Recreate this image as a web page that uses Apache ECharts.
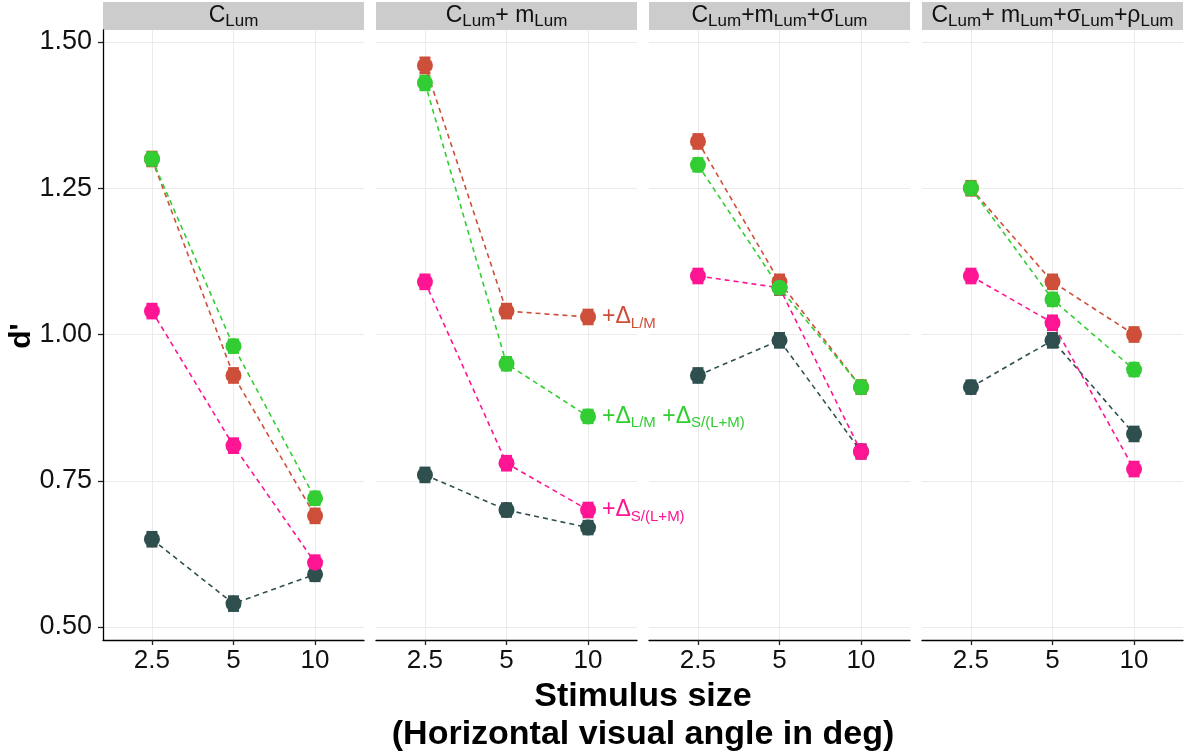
<!DOCTYPE html>
<html><head><meta charset="utf-8">
<script src="https://cdn.jsdelivr.net/npm/echarts@6/dist/echarts.min.js"></script>
<style>html,body{margin:0;padding:0;background:#fff}#c{width:1186px;height:751px}</style>
</head><body><div id="c"></div>
<script>
// ---- data ----
const sizes = ['2.5', '5', '10'];
const yTicks = [0.5, 0.75, 1.0, 1.25, 1.5];
const panelTitles = [
  '{n|C}{s|Lum}',
  '{n|C}{s|Lum}{n|+ m}{s|Lum}',
  '{n|C}{s|Lum}{n|+m}{s|Lum}{n|+σ}{s|Lum}',
  '{n|C}{s|Lum}{n|+ m}{s|Lum}{n|+σ}{s|Lum}{n|+ρ}{s|Lum}'
];
// d' per panel, values at 2.5, 5, 10 deg
const baseline  = [[0.65,0.54,0.59],[0.76,0.70,0.67],[0.93,0.99,0.80],[0.91,0.99,0.83]];
const deltaLM   = [[1.30,0.93,0.69],[1.46,1.04,1.03],[1.33,1.09,0.91],[1.25,1.09,1.00]];
const deltaS    = [[1.04,0.81,0.61],[1.09,0.78,0.70],[1.10,1.08,0.80],[1.10,1.02,0.77]];
const deltaBoth = [[1.30,0.98,0.72],[1.43,0.95,0.86],[1.29,1.08,0.91],[1.25,1.06,0.94]];
// standard errors
const errBaseline  = [[0.012,0.012,0.011],[0.012,0.011,0.011],[0.012,0.012,0.011],[0.011,0.012,0.012]];
const errDeltaLM   = [[0.012,0.012,0.012],[0.013,0.012,0.012],[0.012,0.012,0.011],[0.012,0.012,0.012]];
const errDeltaS    = [[0.012,0.012,0.012],[0.012,0.012,0.012],[0.012,0.012,0.012],[0.012,0.012,0.012]];
const errDeltaBoth = [[0.011,0.011,0.011],[0.012,0.011,0.011],[0.011,0.011,0.011],[0.011,0.011,0.011]];

const conditions = [
  {name: 'baseline', vals: baseline, errs: errBaseline, color: '#2F4F4F', label: null},
  {name: 'deltaLM', vals: deltaLM, errs: errDeltaLM, color: '#CD4F39', label: '{p|+Δ}{s|L/M}'},
  {name: 'deltaS', vals: deltaS, errs: errDeltaS, color: '#FF1493', label: '{p|+Δ}{s|S/(L+M)}'},
  {name: 'deltaBoth', vals: deltaBoth, errs: errDeltaBoth, color: '#32CD32', label: '{p|+Δ}{s|L/M}{p| +Δ}{s|S/(L+M)}'}
];

// ---- layout ----
const FONT = 'Liberation Sans, Arial, Helvetica, sans-serif';
const panelLeft = [103, 376, 649, 922];
const panelW = 261, gridTop = 30, gridH = 610;

const grids = [], xAxes = [], yAxes = [], series = [], graphics = [];
panelLeft.forEach((l, i) => {
  grids.push({left: l, top: gridTop, width: panelW, height: gridH, containLabel: false});
  xAxes.push({
    type: 'value', gridIndex: i, min: 0.4, max: 3.6,
    axisLine: {show: true, lineStyle: {color: '#000', width: 1.3}},
    axisTick: {show: true, customValues: [1, 2, 3], length: 5, lineStyle: {color: '#222', width: 1.3}},
    axisLabel: {show: true, customValues: [1, 2, 3], formatter: v => sizes[Math.round(v) - 1],
      fontSize: 26, color: '#111', fontFamily: FONT, margin: 8},
    splitLine: {show: true, lineStyle: {color: '#EBEBEB', width: 1}}
  });
  yAxes.push({
    type: 'value', gridIndex: i, min: 0.4778, max: 1.5205,
    axisLine: {show: i === 0, onZero: false, lineStyle: {color: '#000', width: 1.3}},
    axisTick: {show: i === 0, customValues: yTicks, length: 5, lineStyle: {color: '#222', width: 1.3}},
    axisLabel: {show: i === 0, customValues: yTicks, formatter: v => v.toFixed(2),
      fontSize: 27, color: '#111', fontFamily: FONT, margin: 11},
    splitLine: {show: true, lineStyle: {color: '#EBEBEB', width: 1}}
  });
  // strip
  graphics.push({type: 'rect', shape: {x: l, y: 2, width: panelW, height: 28}, style: {fill: '#CCCCCC'}, silent: true});
  graphics.push({type: 'text', x: l + panelW / 2, y: 16, silent: true,
    style: {text: panelTitles[i], align: 'center', verticalAlign: 'middle', fill: '#111',
      rich: {
        n: {fontSize: 23, fontFamily: FONT, lineHeight: 28, verticalAlign: 'middle', fill: '#111', color: '#111'},
        s: {fontSize: 17, fontFamily: FONT, lineHeight: 17, verticalAlign: 'bottom', fill: '#111', color: '#111'}
      }}});

  conditions.forEach(c => {
    // error bars
    series.push({
      type: 'custom', xAxisIndex: i, yAxisIndex: i, silent: true, z: 2,
      data: c.vals[i].map((v, k) => [k + 1, v - c.errs[i][k], v + c.errs[i][k]]),
      encode: {x: 0, y: [1, 2]},
      renderItem: (params, api) => {
        const lo = api.coord([api.value(0), api.value(1)]);
        const hi = api.coord([api.value(0), api.value(2)]);
        const hw = 5.5;
        const st = {stroke: c.color, lineWidth: 2.6};
        return {type: 'group', children: [
          {type: 'line', shape: {x1: lo[0], y1: lo[1], x2: hi[0], y2: hi[1]}, style: st},
          {type: 'line', shape: {x1: lo[0] - hw, y1: lo[1], x2: lo[0] + hw, y2: lo[1]}, style: st},
          {type: 'line', shape: {x1: hi[0] - hw, y1: hi[1], x2: hi[0] + hw, y2: hi[1]}, style: st}
        ]};
      }
    });
    // lines + points
    series.push({
      type: 'line', name: c.name, xAxisIndex: i, yAxisIndex: i, z: 3,
      symbol: 'circle', symbolSize: 16,
      itemStyle: {color: c.color},
      lineStyle: {color: c.color, width: 1.6, type: [5, 4]},
      data: c.vals[i].map((v, k) => {
        const d = {value: [k + 1, v]};
        if (i === 1 && k === 2 && c.label) {
          d.label = {show: true, position: 'right', distance: 6, formatter: c.label,
            rich: {
              p: {fontSize: 23, fontFamily: FONT, color: c.color, lineHeight: 28, verticalAlign: 'middle'},
              s: {fontSize: 15, fontFamily: FONT, color: c.color, lineHeight: 15, verticalAlign: 'bottom'}
            }};
        }
        return d;
      })
    });
  });
});

// axis titles
graphics.push({type: 'text', x: 643, y: 697, silent: true,
  style: {text: 'Stimulus size', align: 'center', verticalAlign: 'middle',
    font: 'bold 34px ' + FONT, fill: '#000'}});
graphics.push({type: 'text', x: 643, y: 735, silent: true,
  style: {text: '(Horizontal visual angle in deg)', align: 'center', verticalAlign: 'middle',
    font: 'bold 34px ' + FONT, fill: '#000'}});
graphics.push({type: 'text', x: 22, y: 336, rotation: Math.PI / 2, silent: true,
  style: {text: "d'", align: 'center', verticalAlign: 'middle',
    font: 'bold 30px ' + FONT, fill: '#000'}});

const chart = echarts.init(document.getElementById('c'), null, {renderer: 'canvas'});
chart.setOption({
  animation: false,
  backgroundColor: '#fff',
  grid: grids, xAxis: xAxes, yAxis: yAxes, series: series, graphic: graphics
});
</script></body></html>
